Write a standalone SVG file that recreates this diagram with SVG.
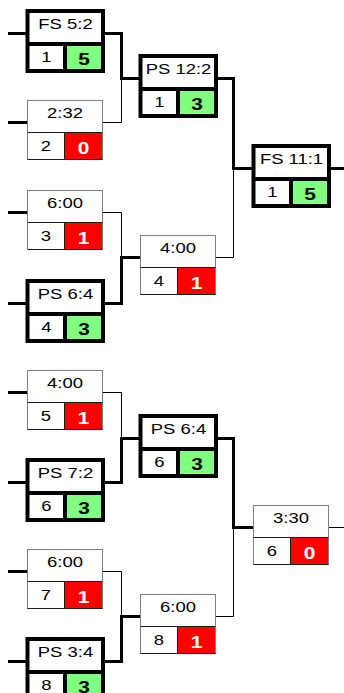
<svg xmlns="http://www.w3.org/2000/svg" width="344" height="693" viewBox="0 0 344 693">
<style>
.t{font-family:"Liberation Sans",Arial,sans-serif;font-size:15px;text-anchor:middle;fill:#000}
.s{font-family:"Liberation Sans",Arial,sans-serif;font-size:17px;font-weight:bold;text-anchor:middle}
.w{fill:#fff}
.k{fill:#000}
.thick{fill:none;stroke:#000;stroke-width:3}
.thin{fill:none;stroke:#000;stroke-width:1}
.red{fill:#ff0000}
.green{fill:#80ff80}
</style>
<defs>
<g id="thinBg">
<rect x="0.5" y="0.5" width="75" height="59" fill="#fff"/>
</g>
<g id="thinFrame">
<rect x="0.5" y="0.5" width="75" height="59" fill="none" stroke="#808080"/>
<path d="M0.5,32.5 H75.5 M37.5,32.5 V59.5 M0.5,59.5 H75.5" fill="none" stroke="#1a1a1a"/>
</g>
<g id="thickBg">
<rect x="0.5" y="0" width="75.5" height="60" fill="#fff"/>
</g>
<g id="thickFrame">
<rect x="0.5" y="0" width="75.5" height="60" fill="none" stroke="#000" stroke-width="4"/>
<path d="M0.5,33 H76 M38,33 V60" fill="none" stroke="#000" stroke-width="4"/>
</g>
</defs>
<rect width="344" height="693" fill="#fff"/>
<g id="connectors">
<path class="thick" d="M8,33.5 H27 M8,122.5 H27 M8,212.5 H27 M8,303.5 H27 M8,392.5 H27 M8,482.5 H27 M8,571.5 H27 M8,661.5 H27"/>
<path class="thick" d="M102,33.5 H121.5 V78.5 H141"/>
<path class="thin" d="M102,122.5 H121.5 V78.5"/>
<path class="thin" d="M102,212.5 H121.5 V257.5"/>
<path class="thick" d="M102,303.5 H121.5 V257.5 H141"/>
<path class="thin" d="M102,392.5 H121.5 V438.5"/>
<path class="thick" d="M102,482.5 H121.5 V438.5 H141"/>
<path class="thin" d="M102,571.5 H121.5 V616.5"/>
<path class="thick" d="M102,661.5 H121.5 V616.5 H141"/>
<path class="thick" d="M215,78.5 H233.5 V168.5 H254"/>
<path class="thin" d="M215,257.5 H233.5 V168.5"/>
<path class="thick" d="M215,438.5 H233.5 V527.5 H254"/>
<path class="thin" d="M215,616.5 H233.5 V527.5"/>
<path class="thick" d="M328,168.5 H344"/>
<path class="thin" d="M328,527.5 H344"/>
</g>
<g id="m1" transform="translate(27,11)">
<use href="#thickBg"/><rect class="green" x="38" y="33" width="38" height="27"/><use href="#thickFrame"/>
<text class="t" transform="translate(38.5,18) scale(1.23,1)">FS 5:2</text>
<text class="t" transform="translate(19.5,50.5) scale(1.23,1)">1</text>
<text class="s k" transform="translate(57,53.5) scale(1.23,1)">5</text>
</g>
<g id="m2" transform="translate(27,100)">
<use href="#thinBg"/><rect class="red" x="38" y="33" width="37.5" height="26.5"/><use href="#thinFrame"/>
<text class="t" transform="translate(38,18) scale(1.23,1)">2:32</text>
<text class="t" transform="translate(19,50.5) scale(1.23,1)">2</text>
<text class="s w" transform="translate(56.5,53.5) scale(1.23,1)">0</text>
</g>
<g id="m3" transform="translate(27,190)">
<use href="#thinBg"/><rect class="red" x="38" y="33" width="37.5" height="26.5"/><use href="#thinFrame"/>
<text class="t" transform="translate(38,18) scale(1.23,1)">6:00</text>
<text class="t" transform="translate(19,50.5) scale(1.23,1)">3</text>
<text class="s w" transform="translate(56.5,53.5) scale(1.23,1)">1</text>
</g>
<g id="m4" transform="translate(27,281)">
<use href="#thickBg"/><rect class="green" x="38" y="33" width="38" height="27"/><use href="#thickFrame"/>
<text class="t" transform="translate(38.5,18) scale(1.23,1)">PS 6:4</text>
<text class="t" transform="translate(19.5,50.5) scale(1.23,1)">4</text>
<text class="s k" transform="translate(57,53.5) scale(1.23,1)">3</text>
</g>
<g id="m5" transform="translate(27,370)">
<use href="#thinBg"/><rect class="red" x="38" y="33" width="37.5" height="26.5"/><use href="#thinFrame"/>
<text class="t" transform="translate(38,18) scale(1.23,1)">4:00</text>
<text class="t" transform="translate(19,50.5) scale(1.23,1)">5</text>
<text class="s w" transform="translate(56.5,53.5) scale(1.23,1)">1</text>
</g>
<g id="m6" transform="translate(27,460)">
<use href="#thickBg"/><rect class="green" x="38" y="33" width="38" height="27"/><use href="#thickFrame"/>
<text class="t" transform="translate(38.5,18) scale(1.23,1)">PS 7:2</text>
<text class="t" transform="translate(19.5,50.5) scale(1.23,1)">6</text>
<text class="s k" transform="translate(57,53.5) scale(1.23,1)">3</text>
</g>
<g id="m7" transform="translate(27,549)">
<use href="#thinBg"/><rect class="red" x="38" y="33" width="37.5" height="26.5"/><use href="#thinFrame"/>
<text class="t" transform="translate(38,18) scale(1.23,1)">6:00</text>
<text class="t" transform="translate(19,50.5) scale(1.23,1)">7</text>
<text class="s w" transform="translate(56.5,53.5) scale(1.23,1)">1</text>
</g>
<g id="m8" transform="translate(27,639)">
<use href="#thickBg"/><rect class="green" x="38" y="33" width="38" height="27"/><use href="#thickFrame"/>
<text class="t" transform="translate(38.5,18) scale(1.23,1)">PS 3:4</text>
<text class="t" transform="translate(19.5,50.5) scale(1.23,1)">8</text>
<text class="s k" transform="translate(57,53.5) scale(1.23,1)">3</text>
</g>
<g id="m9" transform="translate(140,56)">
<use href="#thickBg"/><rect class="green" x="38" y="33" width="38" height="27"/><use href="#thickFrame"/>
<text class="t" transform="translate(38.5,18) scale(1.23,1)">PS 12:2</text>
<text class="t" transform="translate(19.5,50.5) scale(1.23,1)">1</text>
<text class="s k" transform="translate(57,53.5) scale(1.23,1)">3</text>
</g>
<g id="m10" transform="translate(140,235)">
<use href="#thinBg"/><rect class="red" x="38" y="33" width="37.5" height="26.5"/><use href="#thinFrame"/>
<text class="t" transform="translate(38,18) scale(1.23,1)">4:00</text>
<text class="t" transform="translate(19,50.5) scale(1.23,1)">4</text>
<text class="s w" transform="translate(56.5,53.5) scale(1.23,1)">1</text>
</g>
<g id="m11" transform="translate(140,416)">
<use href="#thickBg"/><rect class="green" x="38" y="33" width="38" height="27"/><use href="#thickFrame"/>
<text class="t" transform="translate(38.5,18) scale(1.23,1)">PS 6:4</text>
<text class="t" transform="translate(19.5,50.5) scale(1.23,1)">6</text>
<text class="s k" transform="translate(57,53.5) scale(1.23,1)">3</text>
</g>
<g id="m12" transform="translate(140,594)">
<use href="#thinBg"/><rect class="red" x="38" y="33" width="37.5" height="26.5"/><use href="#thinFrame"/>
<text class="t" transform="translate(38,18) scale(1.23,1)">6:00</text>
<text class="t" transform="translate(19,50.5) scale(1.23,1)">8</text>
<text class="s w" transform="translate(56.5,53.5) scale(1.23,1)">1</text>
</g>
<g id="m13" transform="translate(253,146)">
<use href="#thickBg"/><rect class="green" x="38" y="33" width="38" height="27"/><use href="#thickFrame"/>
<text class="t" transform="translate(38.5,18) scale(1.23,1)">FS 11:1</text>
<text class="t" transform="translate(19.5,50.5) scale(1.23,1)">1</text>
<text class="s k" transform="translate(57,53.5) scale(1.23,1)">5</text>
</g>
<g id="m14" transform="translate(253,505)">
<use href="#thinBg"/><rect class="red" x="38" y="33" width="37.5" height="26.5"/><use href="#thinFrame"/>
<text class="t" transform="translate(38,18) scale(1.23,1)">3:30</text>
<text class="t" transform="translate(19,50.5) scale(1.23,1)">6</text>
<text class="s w" transform="translate(56.5,53.5) scale(1.23,1)">0</text>
</g>
</svg>
